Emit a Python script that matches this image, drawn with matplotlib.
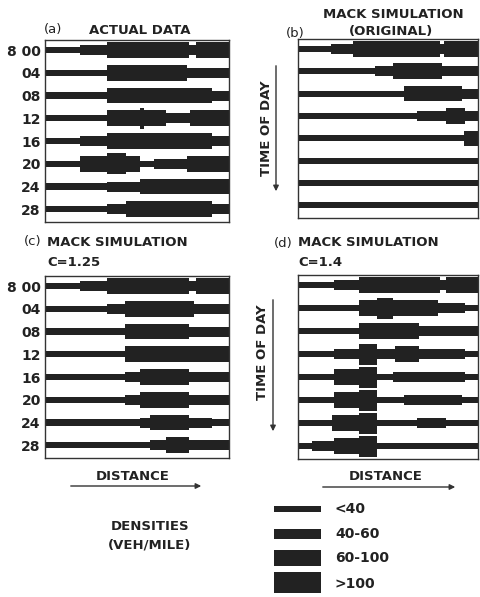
import matplotlib.pyplot as plt

plt.rcParams['font.family'] = ['DejaVu Sans']

times = ['8 00', '04', '08', '12', '16', '20', '24', '28']
legend_labels = ['<40', '40-60', '60-100', '>100']

# each row: break points along distance (0-100) and density class in between
# (1 = <40, 2 = 40-60, 3 = 60-100, 4 = >100)
actual_edges = [
    [0, 19, 33.5, 78, 82, 100],
    [0, 33.5, 77, 100],
    [0, 33.5, 91, 100],
    [0, 33.5, 51.5, 54, 66, 79, 100],
    [0, 19, 33.5, 91, 100],
    [0, 19, 33.5, 44, 51.5, 59, 77, 100],
    [0, 33.5, 51.5, 100],
    [0, 33.5, 44, 91, 100],
]
actual_levels = [
    [1, 2, 3, 2, 3],
    [1, 3, 2],
    [1, 3, 2],
    [1, 3, 4, 3, 2, 3],
    [1, 2, 3, 2],
    [1, 3, 4, 3, 1, 2, 3],
    [1, 2, 3],
    [1, 2, 3, 2],
]

orig_edges = [
    [0, 18.4, 30.4, 79, 81, 100],
    [0, 43, 52.5, 80, 100],
    [0, 59, 91, 100],
    [0, 66, 82, 93, 100],
    [0, 92, 100],
    [0, 100],
    [0, 100],
    [0, 100],
]
orig_levels = [
    [1, 2, 3, 2, 3],
    [1, 2, 3, 2],
    [1, 3, 2],
    [1, 2, 3, 2],
    [1, 3],
    [1],
    [1],
    [1],
]

c125_edges = [
    [0, 19, 33.5, 78, 82, 100],
    [0, 33.5, 43.5, 81, 100],
    [0, 43.5, 78, 100],
    [0, 43.5, 100],
    [0, 43.5, 51.5, 78, 100],
    [0, 43.5, 51.5, 78, 100],
    [0, 51.5, 57, 78, 91, 100],
    [0, 57, 66, 78, 100],
]
c125_levels = [
    [1, 2, 3, 2, 3],
    [1, 2, 3, 2],
    [1, 3, 2],
    [1, 3],
    [1, 2, 3, 2],
    [1, 2, 3, 2],
    [1, 2, 3, 2, 1],
    [1, 2, 3, 2],
]

c14_edges = [
    [0, 20, 34, 79, 82, 100],
    [0, 34, 44, 53, 78, 93, 100],
    [0, 34, 67, 100],
    [0, 20, 34, 44, 54, 67, 93, 100],
    [0, 20, 34, 44, 52.5, 93, 100],
    [0, 20, 34, 44, 59, 91, 100],
    [0, 19, 34, 44, 66, 82, 100],
    [0, 8, 20, 34, 44, 100],
]
c14_levels = [
    [1, 2, 3, 2, 3],
    [1, 3, 4, 3, 2, 1],
    [1, 3, 2],
    [1, 2, 4, 2, 3, 2, 1],
    [1, 3, 4, 1, 2, 1],
    [1, 3, 4, 1, 2, 1],
    [1, 3, 4, 1, 2, 1],
    [1, 2, 3, 4, 1],
]

level_h = {1: 0.27, 2: 0.44, 3: 0.70, 4: 0.92}
ink = '#222222'
W, H = 480, 597

fig = plt.figure(figsize=(4.8, 5.97), dpi=100)


def fx(x):
    return x / W


def fy(y):
    return 1 - y / H


def panel(left, top, right, bottom, edges, levels, labels):
    ax = fig.add_axes([fx(left), fy(bottom), (right - left) / W, (bottom - top) / H])
    for i, (e, lv) in enumerate(zip(edges, levels)):
        for k, l in enumerate(lv):
            ax.barh(i, e[k + 1] - e[k], left=e[k], height=level_h[l], color=ink, lw=0)
    ax.set_xlim(0, 100)
    ax.set_ylim(7.56, -0.44)
    ax.set_xticks([])
    if labels:
        ax.set_yticks(range(len(times)), times, fontsize=10, fontweight='bold', color=ink)
        ax.tick_params(axis='y', length=0, pad=3)
    else:
        ax.set_yticks([])
    for s in ax.spines.values():
        s.set_linewidth(1.0)
        s.set_color('#333333')
    return ax


panel(45, 40, 229, 222, actual_edges, actual_levels, True)
panel(298, 39, 478, 218, orig_edges, orig_levels, False)
panel(45, 276, 229, 458, c125_edges, c125_levels, True)
panel(298, 275, 478, 459, c14_edges, c14_levels, False)

# overlay for titles, arrows and key, in pixel units
ov = fig.add_axes([0, 0, 1, 1])
ov.set_xlim(0, W)
ov.set_ylim(H, 0)
ov.axis('off')

bold = dict(fontsize=9.5, fontweight='bold', color=ink)
plain = dict(fontsize=9.5, color=ink)

ov.text(53, 30, '(a)', ha='center', va='center', **plain)
ov.text(140, 30, 'ACTUAL DATA', ha='center', va='center', **bold)
ov.text(295, 34, '(b)', ha='center', va='center', **plain)
ov.text(393, 15, 'MACK SIMULATION', ha='center', va='center', **bold)
ov.text(391, 32, '(ORIGINAL)', ha='center', va='center', **bold)
ov.text(33, 242, '(c)', ha='center', va='center', **plain)
ov.text(47, 242, 'MACK SIMULATION', ha='left', va='center', **bold)
ov.text(47, 262, 'C=1.25', ha='left', va='center', **bold)
ov.text(283, 243, '(d)', ha='center', va='center', **plain)
ov.text(298, 243, 'MACK SIMULATION', ha='left', va='center', **bold)
ov.text(298, 262, 'C=1.4', ha='left', va='center', **bold)

arrow = dict(arrowstyle='-|>', lw=1.0, color='#333333', mutation_scale=8)
# time of day arrows
ov.text(266, 128, 'TIME OF DAY', rotation=90, ha='center', va='center', **bold)
ov.annotate('', xy=(276, 194), xytext=(276, 63), arrowprops=arrow)
ov.text(262, 352, 'TIME OF DAY', rotation=90, ha='center', va='center', **bold)
ov.annotate('', xy=(273, 434), xytext=(273, 297), arrowprops=arrow)

# distance arrows
ov.text(133, 477, 'DISTANCE', ha='center', va='center', **bold)
ov.annotate('', xy=(204, 486), xytext=(68, 486), arrowprops=arrow)
ov.text(386, 477, 'DISTANCE', ha='center', va='center', **bold)
ov.annotate('', xy=(458, 487), xytext=(320, 487), arrowprops=arrow)

# density key
ov.text(150, 527, 'DENSITIES', ha='center', va='center', **bold)
ov.text(150, 545, '(VEH/MILE)', ha='center', va='center', **bold)
key_px = {1: 6, 2: 10, 3: 16, 4: 21}
for i, lab in enumerate(legend_labels):
    yc = 509 + i * 24.5
    h = key_px[i + 1]
    ov.add_patch(plt.Rectangle((274, yc - h / 2), 47, h, color=ink, lw=0))
    ov.text(335, yc + (1 if i == 3 else 0), lab, ha='left', va='center',
            fontsize=10, fontweight='bold', color=ink)

fig.savefig('out.png', dpi=100)
